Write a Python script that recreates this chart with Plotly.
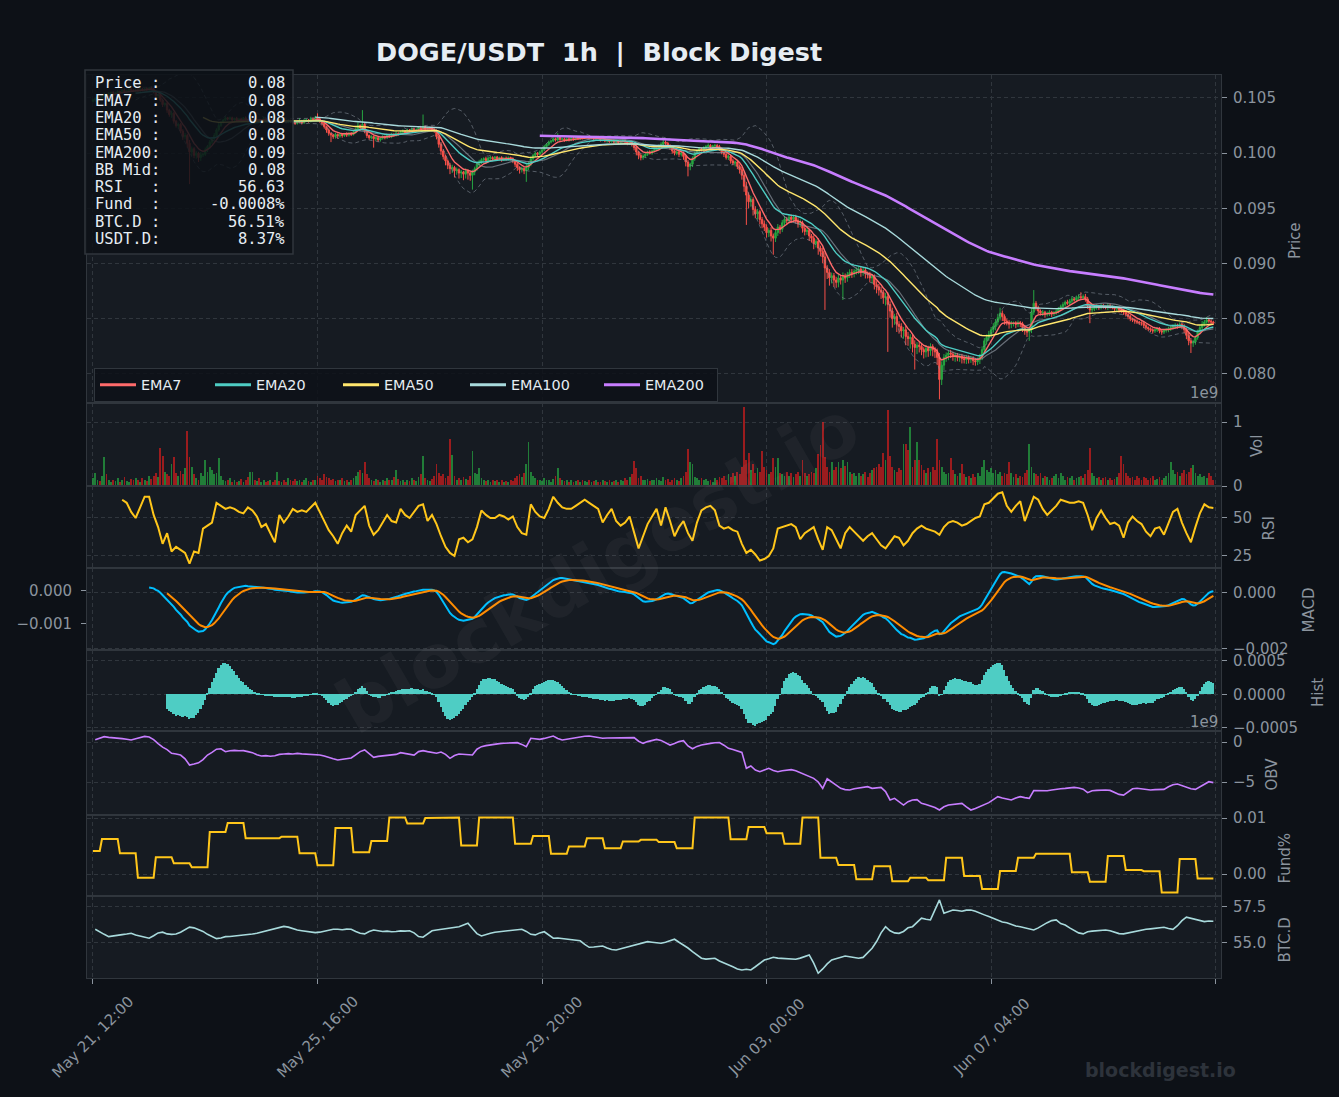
import numpy as np
import pandas as pd
import plotly.graph_objects as go

# ---------------- data ----------------
start_time = "2023-05-21 12:00"

# hourly close, in 1e-5 USDT
close_e5 = [
    10480, 10495, 10510, 10500, 10520, 10530, 10515, 10540, 10550, 10535,
    10545, 10560, 10550, 10570, 10555, 10565, 10580, 10570, 10560, 10575,
    10565, 10580, 10570, 10585, 10575, 10590, 10580, 10560, 10520, 10530,
    10480, 10440, 10450, 10390, 10350, 10360, 10290, 10250, 10260, 10200,
    10150, 10160, 10090, 10010, 10040, 9980, 10000, 9960, 9985, 9990,
    10030, 10060, 10100, 10130, 10160, 10210, 10250, 10280, 10300, 10320,
    10310, 10320, 10300, 10315, 10295, 10310, 10300, 10320, 10305, 10290,
    10300, 10310, 10295, 10305, 10290, 10300, 10315, 10300, 10290, 10305,
    10295, 10280, 10300, 10290, 10305, 10290, 10280, 10295, 10285, 10275,
    10270, 10285, 10290, 10275, 10295, 10300, 10290, 10310, 10305, 10320,
    10310, 10290, 10270, 10240, 10210, 10180, 10165, 10150, 10170, 10155,
    10170, 10160, 10175, 10165, 10180, 10170, 10190, 10220, 10250, 10230,
    10260, 10200, 10160, 10140, 10150, 10130, 10140, 10120, 10135, 10150,
    10140, 10160, 10150, 10170, 10160, 10180, 10175, 10190, 10200, 10185,
    10210, 10200, 10220, 10210, 10215, 10230, 10220, 10240, 10215, 10225,
    10230, 10215, 10200, 10150, 10080, 10020, 9970, 9930, 9890, 9860,
    9870, 9840, 9850, 9820, 9830, 9810, 9840, 9820, 9800, 9830,
    9860, 9900, 9920, 9940, 9950, 9930, 9955, 9960, 9945, 9965,
    9950, 9960, 9940, 9955, 9945, 9960, 9950, 9930, 9900, 9870,
    9850, 9860, 9840, 9870, 9900, 9950, 9980, 10000, 9990, 10010,
    10030, 10060, 10080, 10100, 10110, 10130, 10120, 10140, 10125, 10130,
    10115, 10130, 10120, 10135, 10125, 10140, 10130, 10145, 10135, 10140,
    10150, 10135, 10140, 10130, 10145, 10135, 10120, 10130, 10110, 10120,
    10105, 10115, 10100, 10110, 10095, 10105, 10115, 10100, 10090, 10100,
    10080, 10050, 10010, 9980, 9960, 9975, 9990, 10010, 10000, 10020,
    10030, 10040, 10060, 10080, 10100, 10090, 10070, 10050, 10020, 10000,
    10010, 9990, 10000, 9970, 9920, 9880, 9900, 9950, 10000, 10020,
    10040, 10030, 10050, 10060, 10070, 10055, 10065, 10070, 10060, 10040,
    10010, 9990, 9960, 9970, 9930, 9910, 9920, 9880, 9850, 9800,
    9700, 9620, 9560, 9580, 9490, 9450, 9470, 9400, 9360, 9330,
    9280, 9300, 9250, 9230, 9280, 9330, 9310, 9370, 9400, 9390,
    9420, 9400, 9420, 9390, 9360, 9370, 9320, 9290, 9300, 9250,
    9230, 9180, 9200, 9140, 9110, 9060, 8960, 8920, 8870, 8890,
    8850, 8830, 8870, 8850, 8880, 8870, 8900, 8920, 8910, 8930,
    8940, 8950, 8920, 8940, 8910, 8900, 8870, 8880, 8810, 8790,
    8760, 8740, 8690, 8700, 8630, 8570, 8500, 8520, 8450, 8430,
    8390, 8400, 8340, 8320, 8330, 8270, 8240, 8260, 8250, 8220,
    8200, 8230, 8210, 8250, 8220, 8200, 8150, 7950, 8080, 8150,
    8170, 8190, 8180, 8160, 8170, 8150, 8160, 8140, 8130, 8150,
    8130, 8140, 8120, 8110, 8130, 8160, 8220, 8300, 8330, 8360,
    8400, 8430, 8470, 8510, 8550, 8520, 8480, 8470, 8450, 8460,
    8460, 8450, 8465, 8455, 8420, 8390, 8380, 8400, 8560, 8640,
    8600, 8570, 8550, 8560, 8540, 8550, 8560, 8545, 8555, 8570,
    8590, 8610, 8630, 8650, 8640, 8660, 8680, 8670, 8690, 8700,
    8690, 8700, 8680, 8620, 8580, 8590, 8600, 8610, 8600, 8620,
    8610, 8600, 8620, 8610, 8600, 8590, 8600, 8580, 8570, 8560,
    8540, 8520, 8500, 8490, 8480, 8470, 8465, 8460, 8440, 8420,
    8410, 8400, 8390, 8400, 8410, 8390, 8380, 8395, 8400, 8410,
    8420, 8430, 8440, 8435, 8450, 8430, 8400, 8350, 8300, 8280,
    8290, 8330, 8380, 8420, 8450, 8470, 8490, 8480, 8470, 8460,
]
first_open_e5 = 10470

# upper / lower wick length beyond the body, in 1e-5 USDT
hi_wick_e5 = [
    12, 8, 15, 10, 6, 18, 9, 14, 7, 11, 9, 13, 6, 10, 15, 8, 12, 7, 10, 9,
    14, 8, 11, 6, 13, 9, 15, 10, 12, 8, 20, 15, 10, 18, 12, 25, 14, 10, 16, 12,
    18, 22, 15, 30, 20, 14, 18, 12, 25, 16, 20, 14, 18, 12, 22, 15, 30, 12, 10, 14,
    8, 12, 10, 6, 14, 9, 11, 7, 13, 8, 15, 10, 8, 12, 6, 9, 14, 8, 10, 7,
    9, 12, 7, 10, 15, 8, 6, 11, 9, 20, 12, 8, 25, 10, 15, 12, 9, 20, 14, 18,
    40, 10, 8, 12, 9, 15, 7, 10, 14, 8, 10, 12, 8, 14, 9, 11, 15, 12, 30, 10,
    130, 15, 10, 8, 12, 9, 14, 10, 8, 12, 9, 11, 8, 14, 10, 20, 8, 12, 15, 10,
    12, 9, 14, 10, 8, 12, 15, 110, 10, 12, 9, 12, 10, 15, 12, 20, 15, 18, 14, 22,
    25, 15, 20, 12, 18, 10, 22, 15, 12, 20, 18, 25, 20, 15, 12, 18, 10, 14, 12, 9,
    10, 8, 12, 9, 14, 10, 8, 12, 10, 15, 12, 18, 14, 30, 25, 20, 15, 12, 10, 14,
    12, 15, 10, 14, 9, 12, 10, 40, 12, 8, 10, 9, 12, 8, 14, 10, 8, 12, 9, 11,
    8, 12, 9, 10, 7, 12, 9, 8, 11, 10, 9, 7, 10, 12, 8, 11, 9, 7, 10, 8,
    12, 10, 15, 12, 18, 14, 10, 12, 16, 10, 14, 12, 18, 20, 25, 15, 12, 10, 14, 12,
    10, 14, 12, 15, 10, 18, 14, 20, 15, 12, 14, 10, 12, 15, 18, 12, 10, 14, 12, 15,
    12, 15, 10, 18, 14, 20, 12, 15, 18, 25, 30, 40, 25, 35, 20, 30, 25, 18, 22, 30,
    25, 20, 30, 22, 35, 28, 20, 25, 30, 22, 20, 25, 18, 22, 20, 30, 18, 25, 20, 15,
    18, 25, 20, 30, 22, 35, 40, 25, 30, 28, 25, 30, 35, 22, 40, 30, 25, 28, 30, 22,
    25, 20, 28, 22, 30, 18, 25, 20, 22, 30, 25, 30, 22, 35, 40, 28, 30, 25, 35, 28,
    30, 25, 35, 40, 30, 25, 35, 28, 30, 25, 22, 30, 25, 28, 20, 25, 30, 40, 35, 30,
    25, 20, 28, 22, 25, 20, 18, 22, 25, 20, 18, 22, 20, 25, 18, 22, 30, 25, 28, 30,
    25, 30, 28, 35, 50, 25, 20, 22, 18, 20, 15, 18, 20, 15, 18, 22, 20, 25, 30, 120,
    20, 18, 15, 20, 12, 15, 18, 12, 15, 20, 15, 18, 20, 15, 22, 18, 25, 15, 20, 22,
    40, 20, 25, 18, 22, 15, 18, 20, 15, 18, 15, 12, 18, 15, 12, 14, 18, 12, 15, 12,
    14, 12, 15, 10, 12, 14, 10, 12, 15, 12, 10, 12, 14, 10, 12, 15, 10, 12, 14, 18,
    15, 18, 20, 15, 18, 15, 20, 18, 22, 25, 20, 18, 22, 25, 30, 20, 25, 18, 15, 12,
]
lo_wick_e5 = [
    10, 14, 8, 12, 9, 15, 7, 11, 13, 8, 12, 7, 10, 14, 8, 11, 9, 13, 6, 10,
    8, 12, 9, 7, 14, 10, 12, 18, 15, 20, 15, 22, 18, 25, 20, 30, 22, 18, 25, 20,
    30, 25, 40, 290, 35, 25, 30, 40, 30, 20, 15, 20, 12, 18, 14, 10, 15, 12, 10, 8,
    12, 9, 14, 8, 11, 10, 7, 12, 9, 15, 8, 12, 10, 14, 9, 7, 11, 10, 13, 8,
    10, 14, 9, 12, 8, 15, 11, 9, 12, 10, 14, 10, 12, 15, 9, 11, 14, 10, 12, 9,
    12, 15, 20, 18, 25, 22, 65, 20, 18, 25, 15, 20, 12, 18, 14, 15, 10, 12, 15, 20,
    25, 20, 22, 18, 15, 80, 20, 18, 15, 12, 15, 12, 10, 14, 12, 9, 15, 11, 10, 12,
    10, 14, 9, 12, 15, 10, 12, 14, 20, 15, 12, 18, 15, 25, 30, 35, 28, 40, 35, 50,
    40, 60, 35, 50, 45, 55, 40, 60, 50, 130, 30, 20, 25, 18, 15, 20, 12, 15, 18, 14,
    12, 15, 18, 12, 14, 10, 15, 20, 25, 30, 35, 25, 30, 100, 25, 18, 20, 15, 18, 12,
    15, 12, 10, 14, 12, 10, 15, 12, 14, 10, 12, 10, 14, 9, 12, 10, 8, 12, 10, 9,
    10, 12, 8, 14, 9, 11, 15, 10, 12, 14, 12, 10, 14, 9, 15, 11, 10, 12, 18, 14,
    20, 25, 30, 35, 25, 20, 18, 15, 12, 14, 12, 10, 14, 12, 10, 15, 18, 20, 25, 20,
    18, 25, 20, 30, 40, 90, 35, 25, 20, 15, 12, 15, 10, 14, 12, 15, 10, 12, 15, 20,
    20, 25, 18, 22, 25, 20, 30, 25, 35, 40, 50, 270, 60, 45, 55, 40, 50, 45, 40, 35,
    45, 40, 50, 150, 35, 30, 40, 25, 30, 35, 25, 30, 22, 28, 35, 30, 40, 35, 30, 45,
    40, 50, 35, 60, 45, 55, 380, 60, 70, 50, 60, 50, 45, 40, 180, 45, 35, 30, 40, 35,
    30, 35, 40, 30, 45, 35, 40, 50, 45, 60, 50, 60, 55, 70, 430, 60, 80, 55, 70, 65,
    60, 70, 80, 65, 90, 75, 200, 60, 55, 50, 60, 50, 55, 45, 60, 55, 70, 180, 50, 45,
    40, 45, 35, 40, 50, 35, 40, 45, 35, 40, 35, 30, 40, 35, 30, 40, 35, 30, 35, 30,
    30, 25, 35, 30, 25, 40, 35, 30, 40, 35, 30, 35, 25, 30, 40, 35, 45, 80, 30, 25,
    25, 30, 20, 25, 30, 20, 25, 30, 20, 18, 20, 15, 18, 20, 15, 18, 20, 15, 18, 15,
    15, 20, 25, 30, 120, 25, 20, 18, 20, 15, 18, 15, 20, 18, 15, 20, 18, 25, 20, 25,
    20, 25, 22, 20, 25, 18, 20, 22, 25, 20, 22, 20, 25, 18, 20, 22, 25, 18, 20, 22,
    20, 18, 22, 25, 20, 25, 30, 35, 40, 90, 35, 25, 20, 18, 22, 20, 15, 18, 20, 15,
]

# hourly volume, in 1e7 DOGE
volume_e7 = [
    12, 20, 10, 8, 15, 45, 18, 9, 6, 10, 8, 12, 7, 9, 14, 8, 6, 11, 9, 13,
    10, 7, 12, 9, 8, 15, 11, 16, 20, 14, 59, 47, 22, 18, 15, 35, 46, 20, 16, 24,
    18, 28, 86, 45, 30, 18, 12, 10, 20, 16, 40, 22, 30, 25, 18, 20, 43, 15, 10, 8,
    9, 12, 7, 10, 6, 8, 11, 7, 9, 14, 22, 22, 10, 8, 12, 7, 9, 6, 8, 10,
    7, 9, 22, 8, 6, 10, 7, 12, 9, 8, 11, 8, 10, 6, 9, 12, 8, 7, 10, 9,
    15, 12, 10, 18, 14, 12, 9, 11, 8, 10, 9, 12, 8, 10, 7, 9, 12, 15, 22, 25,
    20, 37, 18, 12, 10, 8, 11, 9, 7, 10, 8, 12, 10, 9, 14, 25, 11, 8, 10, 7,
    9, 8, 12, 10, 8, 14, 18, 47, 12, 10, 8, 11, 15, 34, 20, 15, 18, 12, 16, 73,
    48, 15, 10, 12, 9, 14, 11, 10, 15, 55, 20, 18, 28, 12, 9, 8, 10, 7, 9, 8,
    10, 7, 9, 6, 8, 7, 9, 8, 12, 15, 18, 14, 20, 34, 68, 22, 15, 12, 10, 9,
    8, 12, 10, 9, 7, 11, 15, 28, 12, 9, 8, 10, 7, 9, 6, 8, 10, 7, 9, 8,
    6, 9, 7, 8, 10, 7, 6, 9, 8, 7, 9, 6, 8, 10, 7, 9, 8, 12, 10, 14,
    18, 39, 28, 12, 15, 10, 9, 11, 8, 10, 9, 12, 10, 8, 14, 9, 11, 7, 10, 12,
    10, 8, 12, 15, 22, 58, 38, 35, 14, 12, 10, 12, 9, 11, 8, 10, 7, 12, 9, 14,
    12, 16, 10, 18, 14, 20, 15, 22, 18, 30, 124, 40, 52, 25, 34, 20, 28, 22, 55, 30,
    25, 18, 22, 43, 30, 43, 20, 18, 15, 22, 16, 20, 14, 18, 22, 15, 41, 20, 16, 18,
    22, 20, 28, 50, 64, 100, 45, 30, 22, 38, 25, 30, 38, 28, 40, 32, 38, 22, 18, 20,
    16, 20, 15, 18, 22, 14, 20, 25, 28, 30, 35, 30, 51, 40, 119, 47, 30, 25, 22, 28,
    25, 66, 66, 57, 92, 30, 40, 68, 40, 33, 25, 20, 28, 22, 30, 25, 73, 40, 30, 22,
    18, 20, 43, 25, 18, 15, 20, 35, 18, 14, 16, 12, 18, 14, 20, 15, 30, 41, 25, 22,
    28, 20, 25, 18, 22, 15, 20, 18, 38, 20, 14, 18, 12, 16, 14, 20, 25, 66, 30, 20,
    18, 15, 20, 12, 16, 14, 10, 12, 15, 18, 12, 20, 15, 10, 14, 12, 16, 10, 12, 14,
    15, 12, 18, 25, 60, 20, 15, 12, 14, 10, 12, 14, 10, 12, 9, 11, 14, 20, 47, 34,
    20, 15, 12, 14, 10, 16, 12, 10, 14, 12, 10, 12, 15, 9, 11, 14, 10, 12, 15, 20,
    38, 25, 18, 22, 15, 20, 25, 18, 22, 28, 33, 20, 15, 18, 14, 16, 12, 20, 15, 10,
]

# RSI read every 2 hours (hour index 13, 15, ... 499)
rsi_hours = list(range(13, 500, 2))
rsi_values = [
    62, 60, 54, 50, 57, 64, 64, 52, 44, 33,
    40, 28, 31, 29, 27, 20, 28, 27, 43, 45,
    47, 60, 58, 56, 57, 56, 54, 53, 57, 55,
    51, 44, 46, 40, 34, 52, 47, 51, 56, 54,
    55, 54, 57, 60, 54, 48, 42, 38, 33, 40,
    45, 41, 52, 55, 58, 45, 39, 42, 47, 52,
    48, 47, 56, 52, 50, 54, 58, 59, 48, 52,
    46, 38, 31, 27, 25, 36, 37, 34, 36, 44,
    55, 52, 50, 50, 52, 51, 49, 51, 44, 40,
    39, 59, 54, 51, 50, 56, 64, 60, 57, 56,
    56, 58, 60, 62, 60, 58, 56, 47, 52, 56,
    48, 45, 47, 51, 40, 30, 38, 46, 51, 56,
    45, 57, 48, 38, 44, 48, 40, 35, 47, 55,
    57, 58, 55, 45, 43, 44, 42, 41, 33, 27,
    29, 26, 22, 23, 25, 30, 43, 44, 45, 46,
    44, 36, 40, 42, 44, 36, 29, 44, 42, 36,
    30, 40, 44, 41, 38, 35, 38, 40, 36, 32,
    30, 34, 38, 37, 32, 35, 40, 43, 45, 43,
    42, 41, 39, 44, 47, 48, 47, 45, 46, 48,
    50, 51, 59, 60, 63, 66, 67, 58, 54, 58,
    61, 48, 56, 64, 62, 56, 52, 55, 58, 62,
    61, 60, 60, 61, 60, 52, 42, 50, 55, 50,
    46, 47, 45, 37, 47, 51, 48, 46, 41, 38,
    43, 44, 39, 46, 54, 56, 47, 40, 34, 44,
    53, 59, 57, 56.6,
]

# OBV read every 2 hours (hour index 1, 3, ... 499), in 1e9
obv_hours = list(range(1, 500, 2))
obv_e9 = [
    0.28, 0.45, 0.67, 0.58, 0.55, 0.50, 0.42, 0.35, 0.25, 0.40,
    0.55, 0.70, 0.62, 0.30, -0.20, -0.65, -0.95, -1.42, -1.50, -1.63,
    -2.10, -2.88, -2.75, -2.60, -2.20, -1.63, -1.30, -0.90, -0.85, -1.21,
    -1.10, -1.05, -1.10, -1.08, -1.20, -1.33, -1.60, -1.75, -1.70, -1.78,
    -1.72, -1.55, -1.50, -1.45, -1.50, -1.42, -1.48, -1.50, -1.55, -1.58,
    -1.63, -1.75, -1.95, -2.10, -2.25, -2.15, -2.05, -2.00, -1.60, -1.20,
    -1.00, -1.50, -1.92, -1.80, -1.75, -1.70, -1.65, -1.55, -1.33, -1.45,
    -1.55, -1.63, -1.20, -1.08, -1.20, -1.30, -1.40, -1.25, -1.55, -2.04,
    -1.70, -1.50, -1.55, -1.60, -1.63, -0.90, -0.58, -0.45, -0.35, -0.28,
    -0.20, -0.15, -0.12, -0.10, -0.08, -0.30, -0.58, 0.46, 0.40, 0.33,
    0.45, 0.60, 0.75, 0.45, 0.25, 0.35, 0.45, 0.50, 0.60, 0.72,
    0.75, 0.65, 0.55, 0.46, 0.50, 0.52, 0.55, 0.52, 0.56, 0.58,
    0.55, 0.10, -0.17, 0.05, 0.20, 0.33, 0.20, -0.10, -0.38, -0.20,
    0.05, 0.17, -0.50, -0.85, -0.55, -0.38, -0.25, -0.17, -0.10, -0.08,
    -0.40, -0.79, -0.95, -1.10, -1.30, -3.29, -3.00, -3.50, -3.71, -3.50,
    -3.29, -3.55, -3.71, -3.60, -3.50, -3.45, -3.58, -3.80, -4.10, -4.33,
    -4.54, -5.00, -5.79, -4.60, -5.00, -5.50, -5.79, -5.95, -6.00, -5.85,
    -5.79, -5.65, -5.58, -5.79, -5.70, -5.67, -6.20, -7.25, -7.04, -7.50,
    -7.88, -7.46, -7.25, -7.20, -7.67, -7.80, -8.00, -8.20, -8.50, -8.10,
    -7.88, -7.80, -7.70, -7.67, -8.10, -8.50, -8.30, -8.08, -7.80, -7.58,
    -7.20, -6.83, -7.00, -7.15, -7.25, -7.00, -6.83, -6.95, -7.04, -6.08,
    -6.10, -6.05, -6.10, -6.00, -5.90, -5.85, -5.80, -5.70, -5.67, -5.75,
    -5.90, -6.33, -6.10, -6.05, -6.00, -6.00, -6.05, -6.30, -6.55, -6.63,
    -6.20, -5.85, -5.79, -5.85, -5.95, -6.00, -5.95, -5.90, -5.92, -5.60,
    -5.35, -5.25, -5.45, -5.65, -5.85, -5.92, -5.60, -5.30, -4.96, -5.08,
]

# BTC dominance read every 2 hours (hour index 1, 3, ... 499), in %
btcd_hours = list(range(1, 500, 2))
btcd_pct = [
    55.95, 55.80, 55.60, 55.44, 55.50, 55.55, 55.58, 55.62, 55.67, 55.55,
    55.48, 55.40, 55.33, 55.50, 55.70, 55.75, 55.63, 55.60, 55.62, 55.75,
    55.95, 56.10, 56.05, 55.95, 55.80, 55.60, 55.45, 55.30, 55.35, 55.44,
    55.45, 55.48, 55.50, 55.52, 55.56, 55.62, 55.67, 55.75, 55.82, 55.90,
    55.95, 56.05, 56.15, 56.10, 55.98, 55.90, 55.85, 55.80, 55.76, 55.72,
    55.75, 55.82, 55.90, 55.95, 55.95, 55.92, 55.96, 55.95, 55.80, 55.68,
    55.63, 55.80, 55.90, 55.85, 55.80, 55.82, 55.78, 55.80, 55.84, 55.82,
    55.85, 55.70, 55.45, 55.40, 55.65, 55.85, 55.90, 55.95, 56.00, 56.05,
    56.10, 56.13, 56.25, 56.37, 56.00, 55.65, 55.49, 55.60, 55.68, 55.75,
    55.78, 55.80, 55.85, 55.90, 55.92, 55.95, 55.80, 55.60, 55.56, 55.70,
    55.78, 55.55, 55.33, 55.35, 55.30, 55.28, 55.25, 55.18, 55.15, 54.90,
    54.70, 54.72, 54.76, 54.79, 54.65, 54.55, 54.51, 54.60, 54.68, 54.74,
    54.85, 54.95, 55.05, 55.09, 55.05, 55.00, 54.98, 55.05, 55.15, 55.26,
    55.05, 54.86, 54.65, 54.40, 54.20, 53.94, 53.88, 53.92, 53.94, 53.75,
    53.63, 53.50, 53.35, 53.20, 53.13, 53.18, 53.13, 53.35, 53.60, 53.82,
    53.90, 54.01, 53.95, 53.92, 53.88, 53.90, 53.87, 53.95, 54.05, 54.17,
    53.60, 52.90, 53.20, 53.55, 53.82, 53.90, 54.00, 54.10, 54.05, 53.98,
    53.94, 54.00, 54.30, 54.63, 55.10, 55.70, 56.13, 55.85, 55.70, 55.67,
    55.80, 56.05, 56.13, 56.40, 56.72, 56.65, 56.60, 57.30, 57.99, 57.06,
    57.20, 57.29, 57.25, 57.20, 57.28, 57.29, 57.20, 57.05, 56.95, 56.83,
    56.70, 56.55, 56.45, 56.41, 56.30, 56.18, 56.13, 56.05, 55.98, 55.90,
    56.05, 56.25, 56.41, 56.55, 56.60, 56.35, 56.25, 56.05, 55.85, 55.70,
    55.63, 55.78, 55.82, 55.85, 55.88, 55.90, 55.85, 55.75, 55.65, 55.63,
    55.70, 55.78, 55.82, 55.90, 55.95, 55.98, 56.02, 56.05, 56.09, 56.00,
    55.95, 56.20, 56.55, 56.79, 56.72, 56.65, 56.55, 56.48, 56.52, 56.51,
]

# funding rate (%) per funding period: first period 4 h, then 8 h each
fund_pct = [
    0.0041, 0.00625, 0.0037, -0.00066, 0.0030, 0.0019, 0.0012, 0.0075, 0.0091, 0.0064,
    0.0064, 0.00667, 0.0037, 0.00155, 0.0082, 0.0039, 0.0059, 0.0101, 0.0090, 0.0100,
    0.0101, 0.0051, 0.0101, 0.0101, 0.0054, 0.0068, 0.0036, 0.0049, 0.0064, 0.0046,
    0.0058, 0.0061, 0.0057, 0.0046, 0.0101, 0.0101, 0.0062, 0.0084, 0.0073, 0.0054,
    0.0101, 0.0029, 0.0016, -0.00095, 0.0014, -0.0013, -0.00066, -0.0011, 0.0029, -0.00036,
    -0.0027, 0.00054, 0.0029, 0.0036, 0.0036, 0.0003, -0.0014, 0.0032, 0.0007, 0.0005,
    -0.0033, 0.0027, -0.0008,
]
fund_period_hours = [4] + [8] * 62

x_tick_labels = ["May 21, 12:00", "May 25, 16:00", "May 29, 20:00",
                 "Jun 03, 00:00", "Jun 07, 04:00", ""]
info_labels = ["Price :", "EMA7  :", "EMA20 :", "EMA50 :", "EMA200:",
               "BB Mid:", "RSI   :", "Fund  :", "BTC.D :", "USDT.D:"]
info_values = ["0.08", "0.08", "0.08", "0.08", "0.09", "0.08",
               "56.63", "-0.0008%", "56.51%", "8.37%"]

# ---------------- styling ----------------
BG = "#0d1117"
PANEL = "#161b22"
GRID = "#30363d"
TXT = "#8b949e"
WHITE = "#e6edf3"
UP = "#26a641"
DN = "#f85149"
VOL_UP = "rgba(38,166,65,0.7)"
VOL_DN = "rgba(200,30,30,0.75)"
EMA_COLORS = {7: "#ff6b6b", 20: "#4ecdc4", 50: "#ffe66d", 100: "#a8dadc", 200: "#c77dff"}
DASH = "4px,3px"
FONT = "DejaVu Sans"
MONO = "DejaVu Sans Mono"

W, H = 1339, 1097
L, R, T, B = 87, 1221, 75, 978


def px(x):
    return (x - L) / (R - L)


def py(y):
    return (B - y) / (B - T)


# ---------------- derived series ----------------
n = len(close_e5)
assert len(hi_wick_e5) == n and len(lo_wick_e5) == n and len(volume_e7) == n
assert len(rsi_values) == len(rsi_hours)
assert len(obv_e9) == len(obv_hours) and len(btcd_pct) == len(btcd_hours)
assert sum(fund_period_hours) == n and len(fund_pct) == len(fund_period_hours)

t = pd.date_range(start_time, periods=n, freq="h")
t0 = t[0]
close = np.array(close_e5) / 1e5
open_ = np.concatenate([[first_open_e5 / 1e5], close[:-1]])
high = np.maximum(open_, close) + np.array(hi_wick_e5) / 1e5
low = np.minimum(open_, close) - np.array(lo_wick_e5) / 1e5
vol = np.array(volume_e7) * 1e7
vol_colors = [VOL_UP if c >= o else VOL_DN for o, c in zip(open_, close)]

s = pd.Series(close)
emas = {k: s.ewm(span=k, adjust=False, min_periods=k).mean() for k in (7, 20, 50, 100, 200)}
bb_mid = s.rolling(20).mean()
bb_std = s.rolling(20).std()
bb_up = bb_mid + 2 * bb_std
bb_lo = bb_mid - 2 * bb_std
macd = (s.ewm(span=12, adjust=False, min_periods=12).mean()
        - s.ewm(span=26, adjust=False, min_periods=26).mean())
signal = macd.ewm(span=9, adjust=False, min_periods=9).mean()
hist = macd - signal

fund_hourly = np.repeat(fund_pct, fund_period_hours)

x_range = [t0 - pd.Timedelta(hours=2.67), t0 + pd.Timedelta(hours=502.4)]
tick_dates = [t0 + pd.Timedelta(hours=100 * k) for k in range(6)]

# ---------------- figure ----------------
fig = go.Figure()

fig.add_trace(go.Candlestick(
    x=t, open=open_, high=high, low=low, close=close,
    increasing=dict(line=dict(color=UP, width=1), fillcolor=UP),
    decreasing=dict(line=dict(color=DN, width=1), fillcolor=DN),
    whiskerwidth=0, showlegend=False, hoverinfo="skip", xaxis="x", yaxis="y"))

for series in (bb_up, bb_lo):
    fig.add_trace(go.Scatter(x=t, y=series, mode="lines", showlegend=False, hoverinfo="skip",
                             line=dict(color="rgba(139,148,158,0.55)", width=1, dash=DASH),
                             xaxis="x", yaxis="y"))
fig.add_trace(go.Scatter(x=t, y=bb_mid, mode="lines", showlegend=False, hoverinfo="skip",
                         line=dict(color="rgba(139,148,158,0.7)", width=1.2),
                         xaxis="x", yaxis="y"))

legend_w = {7: 64, 20: 77, 50: 76, 100: 83, 200: 67}
for k in (7, 20, 50, 100, 200):
    fig.add_trace(go.Scatter(x=t, y=emas[k], mode="lines", name=f"EMA{k}", showlegend=False,
                             line=dict(color=EMA_COLORS[k], width=2.6 if k == 200 else 1.4),
                             hoverinfo="skip", xaxis="x", yaxis="y"))
# legend entries (thicker sample lines, as in the reference legend)
for k in (7, 20, 50, 100, 200):
    fig.add_trace(go.Scatter(x=[None], y=[None], mode="lines", name=f"EMA{k}",
                             line=dict(color=EMA_COLORS[k], width=3),
                             legendwidth=legend_w[k], xaxis="x", yaxis="y"))

fig.add_trace(go.Bar(x=t, y=vol, marker=dict(color=vol_colors, line=dict(width=0)),
                     width=0.8 * 3600e3, showlegend=False, hoverinfo="skip",
                     xaxis="x2", yaxis="y2"))

fig.add_trace(go.Scatter(x=t[rsi_hours], y=rsi_values, mode="lines", showlegend=False,
                         line=dict(color="#ffc61a", width=2), hoverinfo="skip",
                         xaxis="x3", yaxis="y3"))

fig.add_trace(go.Scatter(x=t, y=macd, mode="lines", showlegend=False,
                         line=dict(color="#00bfff", width=2), hoverinfo="skip",
                         xaxis="x4", yaxis="y4"))
fig.add_trace(go.Scatter(x=t, y=signal, mode="lines", showlegend=False,
                         line=dict(color="#ff8c00", width=2), hoverinfo="skip",
                         xaxis="x4", yaxis="y4"))
fig.add_trace(go.Scatter(x=t, y=macd, mode="lines", showlegend=False,
                         line=dict(color="rgba(0,0,0,0)", width=0), hoverinfo="skip",
                         xaxis="x4", yaxis="y9"))

fig.add_trace(go.Bar(x=t, y=hist, marker=dict(color="#4ecdc4", line=dict(width=0)),
                     width=0.8 * 3600e3, showlegend=False, hoverinfo="skip",
                     xaxis="x5", yaxis="y5"))

fig.add_trace(go.Scatter(x=t[obv_hours], y=np.array(obv_e9) * 1e9, mode="lines",
                         showlegend=False, line=dict(color="#c77dff", width=1.6),
                         hoverinfo="skip", xaxis="x6", yaxis="y6"))

fig.add_trace(go.Scatter(x=t, y=fund_hourly, mode="lines", showlegend=False,
                         line=dict(color="#ffc61a", width=2), hoverinfo="skip",
                         xaxis="x7", yaxis="y7"))

fig.add_trace(go.Scatter(x=t[btcd_hours], y=btcd_pct, mode="lines", showlegend=False,
                         line=dict(color="#a8dadc", width=1.6), hoverinfo="skip",
                         xaxis="x8", yaxis="y8"))

# ---------------- axes ----------------
rows = [(75, 403), (403, 486), (486, 568), (568, 650), (650, 731), (731, 815), (815, 896), (896, 978)]
y_specs = [
    dict(range=[0.07737, 0.10708], tickvals=[0.08, 0.085, 0.09, 0.095, 0.1, 0.105],
         ticktext=["0.080", "0.085", "0.090", "0.095", "0.100", "0.105"]),
    dict(range=[0, 1.297e9], tickvals=[0, 1e9], ticktext=["0", "1"]),
    dict(range=[17.1, 71.05], tickvals=[25, 50], ticktext=["25", "50"]),
    dict(range=[-0.00204, 0.000893], tickvals=[-0.002, 0], ticktext=["\u22120.002", "0.000"]),
    dict(range=[-0.000545, 0.000664], tickvals=[-0.0005, 0, 0.0005],
         ticktext=["\u22120.0005", "0.0000", "0.0005"]),
    dict(range=[-9.125e9, 1.375e9], tickvals=[-5e9, 0], ticktext=["\u22125", "0"]),
    dict(range=[-0.00393, 0.01054], tickvals=[0, 0.01], ticktext=["0.00", "0.01"]),
    dict(range=[52.57, 58.26], tickvals=[55, 57.5], ticktext=["55.0", "57.5"]),
]

layout = dict(
    width=W, height=H,
    margin=dict(l=L, r=W - R, t=T, b=H - B, pad=0),
    paper_bgcolor=BG, plot_bgcolor=PANEL,
    font=dict(family=FONT, color=TXT, size=15),
    bargap=0, boxgap=0.12,
    showlegend=True,
    legend=dict(orientation="h", x=px(94), y=py(368), xanchor="left", yanchor="top",
                bgcolor="rgba(13,17,23,0.85)", bordercolor=GRID, borderwidth=1,
                font=dict(family=FONT, size=14.4, color=WHITE),
                itemwidth=36, tracegroupgap=0),
)

for k, ((top, bot), ys) in enumerate(zip(rows, y_specs), start=1):
    xname = "xaxis" if k == 1 else f"xaxis{k}"
    yname = "yaxis" if k == 1 else f"yaxis{k}"
    xa = dict(domain=[0, 1], anchor="y" if k == 1 else f"y{k}", type="date", range=x_range,
              showgrid=True, gridcolor=GRID, griddash=DASH, gridwidth=1,
              tickmode="array", tickvals=tick_dates, showticklabels=False,
              ticks="outside" if k == 8 else "", ticklen=5, tickcolor=TXT,
              showline=True, linecolor=GRID, linewidth=1, mirror=True, zeroline=False,
              rangeslider=dict(visible=False), fixedrange=True)
    if k > 1:
        xa["matches"] = "x"
    layout[xname] = xa
    ya = dict(domain=[py(bot), py(top)], anchor="x" if k == 1 else f"x{k}", side="right",
              tickmode="array", ticks="outside", ticklen=5, tickcolor=TXT,
              tickfont=dict(family=FONT, size=15, color=TXT), ticklabelstandoff=3,
              showgrid=True, gridcolor=GRID, griddash=DASH, gridwidth=1,
              showline=True, linecolor=GRID, linewidth=1, mirror=True, zeroline=False,
              fixedrange=True, **ys)
    layout[yname] = ya

layout["yaxis9"] = dict(overlaying="y4", side="left", anchor="x4",
                        range=[-0.001827, 0.000712], tickmode="array",
                        tickvals=[-0.001, 0], ticktext=["\u22120.001", "0.000"],
                        ticks="outside", ticklen=5, tickcolor=TXT, ticklabelstandoff=6,
                        tickfont=dict(family=FONT, size=15, color=TXT),
                        showgrid=False, zeroline=False, showline=False, fixedrange=True)

fig.update_layout(**layout)

# ---------------- shapes & annotations ----------------
fig.add_shape(type="rect", xref="paper", yref="paper",
              x0=px(85), x1=px(293), y0=py(254), y1=py(70),
              fillcolor="rgba(13,17,23,0.86)", line=dict(color=GRID, width=1.5), layer="above")

ann = []
NB = "\u00a0"
ann.append(dict(text="<b>" + "DOGE/USDT  1h  |  Block Digest".replace(" ", NB) + "</b>",
                xref="paper", yref="paper", x=px(599), y=py(52), xanchor="center", yanchor="middle",
                showarrow=False, font=dict(family=FONT, size=25.5, color=WHITE)))

for j, (lab, val) in enumerate(zip(info_labels, info_values)):
    yy = py(83.3 + 17.3 * j)
    ann.append(dict(text=lab.replace(" ", NB), xref="paper", yref="paper", x=px(92.5), y=yy,
                    xanchor="left", yanchor="middle", showarrow=False,
                    font=dict(family=MONO, size=15.5, color=WHITE)))
    ann.append(dict(text=val, xref="paper", yref="paper", x=px(287), y=yy,
                    xanchor="right", yanchor="middle", showarrow=False,
                    font=dict(family=MONO, size=15.5, color=WHITE)))

for yy in (392.5, 722):
    ann.append(dict(text="1e9", xref="paper", yref="paper", x=px(1220), y=py(yy),
                    xanchor="right", yanchor="middle", showarrow=False,
                    font=dict(family=FONT, size=15, color=TXT)))

axis_titles = [("Price", 1295, 241), ("Vol", 1257, 446), ("RSI", 1268.5, 529),
               ("MACD", 1308.5, 610), ("Hist", 1318, 693), ("OBV", 1271.5, 774),
               ("Fund%", 1284.5, 858), ("BTC.D", 1284.5, 940)]
for txt, xx, yy in axis_titles:
    ann.append(dict(text=txt, xref="paper", yref="paper", x=px(xx), y=py(yy),
                    xanchor="center", yanchor="middle", textangle=-90, showarrow=False,
                    font=dict(family=FONT, size=15, color=TXT)))

for d, lab in zip(tick_dates, x_tick_labels):
    if lab:
        ann.append(dict(text=lab, xref="x8", yref="paper", x=d, y=py(1037),
                        xanchor="center", yanchor="middle", textangle=-45, showarrow=False,
                        font=dict(family=FONT, size=15, color=TXT)))

ann.append(dict(text="<b>blockdigest.io</b>", xref="paper", yref="paper", x=px(597), y=py(567),
                xanchor="center", yanchor="middle", textangle=-30, showarrow=False,
                font=dict(family=FONT, size=74, color="rgba(255,255,255,0.04)")))
ann.append(dict(text="<b>blockdigest.io</b>", xref="paper", yref="paper", x=px(1160), y=py(1070),
                xanchor="center", yanchor="middle", showarrow=False,
                font=dict(family=FONT, size=19, color="#2d333b")))

fig.update_layout(annotations=ann)

fig.write_html("out.html", include_plotlyjs=True, config={"displayModeBar": False})
